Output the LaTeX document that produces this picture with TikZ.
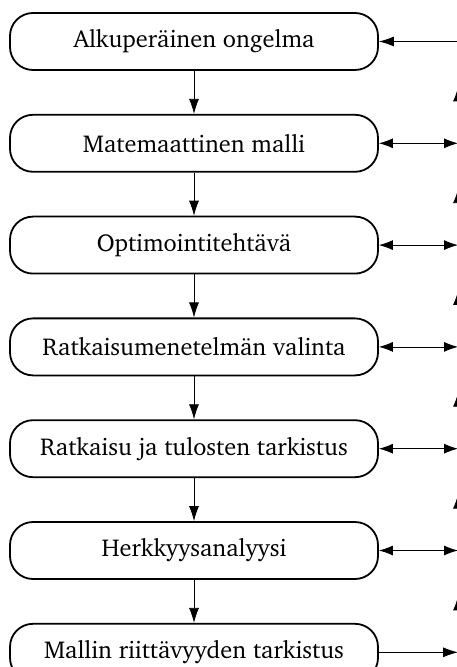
\documentclass[tikz,border=0pt]{standalone}
\usepackage[T1]{fontenc}
\usepackage{charter}
\usepackage{tikz}
\usetikzlibrary{positioning,arrows.meta,decorations.markings}

\begin{document}
\begin{tikzpicture}[
  font=\fontsize{12.2}{14}\selectfont,
  node distance=21.5pt,
  box/.style={rectangle, draw=black, rounded corners=11.5pt, align=center,
              minimum width=184pt, minimum height=28.5pt,
              inner sep=2pt, line width=0.9pt},
  arr/.style={-{Latex[length=7.5pt,width=5pt]}, thin},
  barr/.style={{Latex[length=7pt,width=5pt]}-{Latex[length=7pt,width=5pt]}, thin},
  uarr/.style={thin, postaction={decorate},
               decoration={markings,
                 mark=at position 0.55 with {\arrow{Latex[length=7pt,width=5pt]}}}}
]
\useasboundingbox (0,0) rectangle (228pt,-333.5pt);

\node[box] (P) at (97pt,-20.75pt) {Alkuperäinen ongelma};
\node[box, below=of P] (M) {Matemaattinen malli};
\node[box, below=of M] (O) {Optimointitehtävä};
\node[box, below=of O] (R) {Ratkaisumenetelmän valinta};
\node[box, below=of R] (T) {Ratkaisu ja tulosten tarkistus};
\node[box, below=of T] (H) {Herkkyysanalyysi};
\node[box, below=of H] (V) {Mallin riittävyyden tarkistus};

%% palauteviiva oikealla
\coordinate (X) at (229pt,0);

\draw[arr] (P)--(M); \draw[arr] (M)--(O); \draw[arr] (O)--(R);
\draw[arr] (R)--(T); \draw[arr] (T)--(H); \draw[arr] (H)--(V);

\draw[arr] (P.east -| X) -- (P.east);
\draw[barr] (M.east) -- (M.east -| X);
\draw[barr] (O.east) -- (O.east -| X);
\draw[barr] (R.east) -- (R.east -| X);
\draw[barr] (T.east) -- (T.east -| X);
\draw[barr] (H.east) -- (H.east -| X);
\draw[arr] (V.east) -- (V.east -| X);

\foreach \a/\b in {M/P,O/M,R/O,T/R,H/T,V/H}
  \draw[uarr] (\a.east -| X) -- (\b.east -| X);

\end{tikzpicture}
\end{document}
